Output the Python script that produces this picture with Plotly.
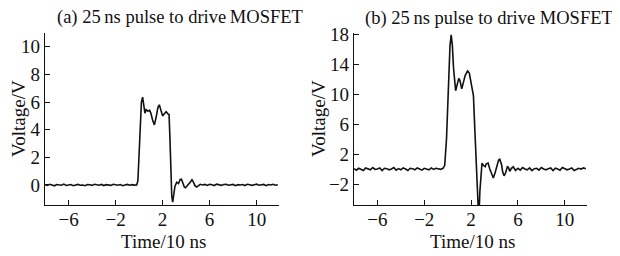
import plotly.graph_objects as go

# ---------------- data: panel (a) ----------------
ta_base1 = [round(-8.0 + 0.2 * i, 2) for i in range(40)]
va_base1 = [0.02, -0.03, 0.05, 0.0, -0.06, 0.03, 0.01, -0.02, 0.06, -0.04,
            0.0, 0.03, -0.05, 0.02, 0.04, -0.02, 0.0, -0.05, 0.03, 0.01,
            -0.03, 0.05, 0.0, -0.02, 0.04, -0.04, 0.02, 0.0, -0.03, 0.05,
            0.01, -0.02, 0.03, -0.05, 0.0, 0.04, -0.02, 0.02, -0.01, 0.0]
ta_pulse = [-0.1, 0.0, 0.1, 0.2, 0.3, 0.4, 0.5, 0.6, 0.75, 0.9, 1.0, 1.15, 1.3,
            1.45, 1.6, 1.72, 1.85, 2.0, 2.15, 2.3, 2.45, 2.55, 2.62, 2.7, 2.78,
            2.86, 2.95, 3.05, 3.2, 3.35, 3.5, 3.6, 3.7, 3.85, 3.95, 4.1, 4.2,
            4.35, 4.5, 4.6, 4.75, 4.9, 5.05, 5.2]
va_pulse = [0.3, 2.5, 4.8, 6.0, 6.35, 5.9, 5.2, 5.45, 5.35, 5.4, 5.2, 4.7, 4.35,
            4.9, 5.6, 5.8, 5.5, 5.0, 5.15, 5.3, 5.15, 5.1, 3.5, 1.0, -0.8,
            -1.25, -0.8, -0.1, 0.2, 0.1, 0.4, 0.42, 0.2, -0.15, -0.2, 0.0, 0.05,
            0.2, 0.38, 0.25, -0.05, -0.15, -0.05, 0.05]
ta_base2 = [round(5.4 + 0.2 * i, 2) for i in range(33)]
va_base2 = [0.0, 0.04, -0.03, 0.05, 0.02, -0.04, 0.06, 0.0, -0.03, 0.03,
            0.05, -0.02, 0.0, 0.04, -0.05, 0.02, 0.0, 0.03, -0.04, 0.05,
            0.01, -0.03, 0.02, 0.06, -0.02, 0.0, 0.04, -0.05, 0.03, 0.0,
            0.05, -0.02, 0.02]

# ---------------- data: panel (b) ----------------
tb_base1 = [round(-8.0 + 0.2 * i, 2) for i in range(38)]
vb_base1 = [0.05, -0.15, 0.1, 0.0, -0.2, 0.15, 0.05, -0.1, 0.2, -0.05,
            0.0, 0.15, -0.2, 0.1, 0.05, -0.1, 0.0, 0.2, -0.15, 0.05,
            -0.1, 0.15, 0.0, -0.2, 0.1, 0.05, -0.1, 0.15, 0.0, -0.15,
            0.1, 0.0, -0.1, 0.15, -0.05, 0.1, 0.0, -0.05]
tb_pulse = [-0.4, -0.25, -0.1, 0.0, 0.1, 0.2, 0.3, 0.4, 0.5, 0.6, 0.68, 0.8,
            0.95, 1.05, 1.2, 1.35, 1.5, 1.7, 1.85, 2.0, 2.12, 2.2, 2.3, 2.4,
            2.5, 2.58, 2.66, 2.75, 2.85, 2.93, 3.05, 3.2, 3.3, 3.45, 3.6, 3.75,
            3.9, 4.05, 4.2, 4.35, 4.45, 4.6, 4.7, 4.82, 4.95, 5.1, 5.2, 5.3,
            5.45, 5.6, 5.8]
vb_pulse = [0.1, 0.5, 4.0, 9.0, 13.5, 16.5, 17.9, 16.5, 13.5, 11.0, 10.45, 11.2,
            12.1, 11.8, 10.7, 11.6, 12.5, 13.1, 12.8, 11.5, 10.2, 9.8, 6.0, 1.0,
            -4.0, -7.0, -7.0, -3.0, 0.2, 0.76, 0.5, 0.3, 0.7, 0.8, 0.0, -0.6,
            -1.2, -0.5, 0.4, 1.2, 1.3, 0.6, -0.4, -0.9, -0.5, 0.3, 0.2, -0.3,
            0.1, 0.3, -0.2]
tb_base2 = [round(6.0 + 0.2 * i, 2) for i in range(30)]
vb_base2 = [0.1, -0.15, 0.2, 0.0, -0.1, 0.15, -0.2, 0.05, 0.1, -0.15,
            0.2, 0.0, -0.1, 0.05, 0.15, -0.2, 0.1, 0.0, -0.15, 0.2,
            0.05, -0.1, 0.0, 0.15, -0.2, -0.05, 0.1, 0.0, 0.15, 0.05]

xticks = [-6, -2, 2, 6, 10]
yticks_a = [0, 2, 4, 6, 8, 10]
yticks_b = [-2, 2, 6, 10, 14, 18]
titles = ["(a) 25\u2009ns pulse to drive\u2009MOSFET", "(b) 25\u2009ns pulse to drive MOSFET"]
xtitle = "Time/10 ns"
ytitle = "Voltage/V"

ta = ta_base1 + ta_pulse + ta_base2
va = va_base1 + va_pulse + va_base2
tb = tb_base1 + tb_pulse + tb_base2
vb = vb_base1 + vb_pulse + vb_base2

# page has an 8px body margin: figure drawn 8px in from top-left
OFF = 8
W, H = 620 - OFF, 256 - OFF
FONT = "Liberation Serif"
INK = "#111"

fig = go.Figure()
fig.add_trace(go.Scatter(x=ta, y=va, mode="lines", line=dict(color=INK, width=1.6),
                         xaxis="x", yaxis="y", showlegend=False, hoverinfo="skip"))
fig.add_trace(go.Scatter(x=tb, y=vb, mode="lines", line=dict(color=INK, width=1.6),
                         xaxis="x2", yaxis="y2", showlegend=False, hoverinfo="skip"))

def px_x(p):
    return (p - OFF) / W

def px_y(p):
    return 1 - (p - OFF) / H

common_x = dict(range=[-8, 11.9], tickvals=xticks, ticks="inside", ticklen=5,
                tickwidth=1, tickcolor=INK, showline=True, linecolor=INK,
                linewidth=1.2, showgrid=False, zeroline=False, automargin=False,
                ticklabelstandoff=-3,
                tickfont=dict(family=FONT, size=19, color=INK))
common_y = dict(ticks="inside", ticklen=5, tickwidth=1, tickcolor=INK,
                showline=True, linecolor=INK, linewidth=1.2, showgrid=False,
                zeroline=False, automargin=False,
                tickfont=dict(family=FONT, size=19, color=INK))

def ann(text, x, y, angle=0, size=19):
    return dict(text=text, x=px_x(x), y=px_y(y), xref="paper", yref="paper",
                xanchor="center", yanchor="middle", showarrow=False, textangle=angle,
                borderpad=0, font=dict(family=FONT, size=size, color=INK))

fig.update_layout(
    width=W, height=H, margin=dict(l=0, r=0, t=0, b=0, autoexpand=False),
    paper_bgcolor="white", plot_bgcolor="white",
    font=dict(family=FONT, color=INK),
    xaxis=dict(domain=[px_x(45), px_x(279)], anchor="y", **common_x),
    yaxis=dict(domain=[px_y(205), px_y(33)], anchor="x", range=[-1.45, 11.0],
               tickvals=yticks_a, **common_y),
    xaxis2=dict(domain=[px_x(354), px_x(587)], anchor="y2", **common_x),
    yaxis2=dict(domain=[px_y(205), px_y(33)], anchor="x2", range=[-4.8, 18.15],
                tickvals=yticks_b, **common_y),
    annotations=[
        ann(titles[0], 180, 18, size=18.5),
        ann(titles[1], 489, 19, size=18.5),
        ann(ytitle, 19, 119, -90),
        ann(ytitle, 319, 119, -90),
        ann(xtitle, 163, 241),
        ann(xtitle, 472, 241),
    ],
)

fig.write_html("out.html")
